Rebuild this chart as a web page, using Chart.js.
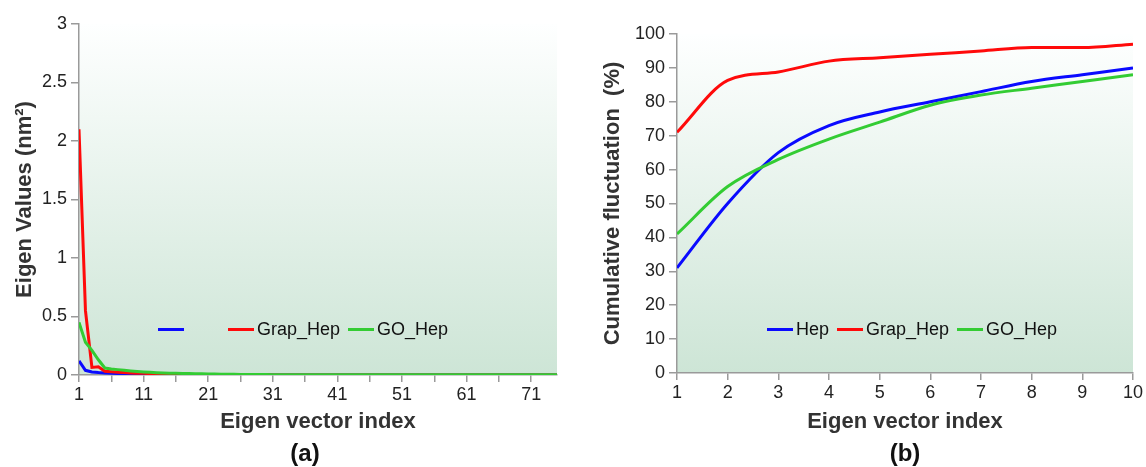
<!DOCTYPE html>
<html>
<head>
<meta charset="utf-8">
<script src="https://cdn.jsdelivr.net/npm/chart.js@4.4.0/dist/chart.umd.min.js"></script>
<style>
  body { margin: 0; background: #fff; width: 1146px; height: 467px; overflow: hidden; position: relative;
         font-family: "Liberation Sans", Arial, sans-serif; }
  .box { position: absolute; top: 0; }
  #boxA { left: 0; }
  #boxB { left: 590px; }
  .panel { position: absolute; font-weight: bold; font-size: 24px; color: #111; transform: translate(-50%, -50%); }
  .legend { position: absolute; display: flex; align-items: center; font-size: 18px; color: #111; height: 22px; }
  .legend .it { display: flex; align-items: center; margin-right: 8px; }
  .legend .ln { display: inline-block; width: 26px; height: 3px; margin-right: 3px; }
</style>
</head>
<body>
<div class="box" id="boxA"><canvas id="chartA" width="570" height="467"></canvas></div>
<div class="box" id="boxB"><canvas id="chartB" width="556" height="467"></canvas></div>
<div class="legend" id="legA" style="left:158px; top:318px;"></div>
<div class="legend" id="legB" style="left:767px; top:318px;"></div>
<div class="panel" style="left:305px; top:453px;">(a)</div>
<div class="panel" style="left:905px; top:453px;">(b)</div>
<script>
// ---- (a) eigen values ----
const indexA = [];
for (let i = 1; i <= 75; i++) indexA.push(i);
const hepA = [0.12, 0.04, 0.026, 0.021, 0.018, 0.015, 0.013, 0.012, 0.011, 0.01,
              0.009, 0.008, 0.007, 0.006, 0.005, 0.005, 0.004, 0.004, 0.003, 0.003,
              0.003, 0.003, 0.002, 0.002, 0.002, 0.002, 0.002, 0.002, 0.002, 0.002,
              0.001, 0.001, 0.001, 0.001, 0.001, 0.001, 0.001, 0.001, 0.001, 0.001,
              0.001, 0.001, 0.001, 0.001, 0.001, 0.001, 0.001, 0.001, 0.001, 0.001,
              0.001, 0.001, 0.001, 0.001, 0.001, 0.001, 0.001, 0.001, 0.001, 0.001,
              0.001, 0.001, 0.001, 0.001, 0.001, 0.001, 0.001, 0.001, 0.001, 0.001,
              0.001, 0.001, 0.001, 0.001, 0.001];
const grapA = [2.1, 0.55, 0.065, 0.07, 0.032, 0.028, 0.024, 0.021, 0.018, 0.016,
               0.014, 0.012, 0.01, 0.009, 0.008, 0.007, 0.006, 0.005, 0.005, 0.004,
               0.004, 0.003, 0.003, 0.003, 0.002, 0.002, 0.002, 0.002, 0.002, 0.002,
               0.001, 0.001, 0.001, 0.001, 0.001, 0.001, 0.001, 0.001, 0.001, 0.001,
               0.001, 0.001, 0.001, 0.001, 0.001, 0.001, 0.001, 0.001, 0.001, 0.001,
               0.001, 0.001, 0.001, 0.001, 0.001, 0.001, 0.001, 0.001, 0.001, 0.001,
               0.001, 0.001, 0.001, 0.001, 0.001, 0.001, 0.001, 0.001, 0.001, 0.001,
               0.001, 0.001, 0.001, 0.001, 0.001];
const goA = [0.45, 0.28, 0.21, 0.13, 0.06, 0.052, 0.046, 0.04, 0.035, 0.03,
             0.026, 0.023, 0.02, 0.018, 0.016, 0.014, 0.013, 0.012, 0.011, 0.01,
             0.009, 0.008, 0.007, 0.006, 0.006, 0.005, 0.005, 0.004, 0.004, 0.004,
             0.003, 0.003, 0.003, 0.003, 0.003, 0.002, 0.002, 0.002, 0.002, 0.002,
             0.002, 0.002, 0.002, 0.002, 0.002, 0.002, 0.002, 0.002, 0.002, 0.002,
             0.002, 0.002, 0.002, 0.002, 0.002, 0.002, 0.002, 0.002, 0.002, 0.002,
             0.002, 0.002, 0.002, 0.002, 0.002, 0.002, 0.002, 0.002, 0.002, 0.002,
             0.002, 0.002, 0.002, 0.002, 0.002];
const xTicksA = [1, 6, 11, 16, 21, 26, 31, 36, 41, 46, 51, 56, 61, 66, 71];
const xLabelsA = [1, 11, 21, 31, 41, 51, 61, 71];

// ---- (b) cumulative fluctuation ----
const indexB = [1, 2, 3, 4, 5, 6, 7, 8, 9, 10];
const hepB  = [31, 50, 65, 73, 77, 80, 83, 86, 88, 90];
const grapB = [71, 86.3, 88.8, 92, 93, 94, 95, 96, 96, 97];
const goB   = [41, 55, 63, 69, 74, 79, 82, 84, 86, 88];

const seriesNames = ['Hep', 'Grap_Hep', 'GO_Hep'];
const seriesColors = ['#0a0aff', '#ff0a0a', '#33cc33'];

const FONT = '"Liberation Sans", Arial, sans-serif';
const axisGrey = '#9a9a9a';

const plotBg = {
    id: 'plotBg',
    beforeDraw(chart) {
        const { ctx, chartArea: a } = chart;
        const g = ctx.createLinearGradient(0, a.top, 0, a.bottom);
        g.addColorStop(0, '#feffff');
        g.addColorStop(1, '#cde5d6');
        ctx.save();
        ctx.fillStyle = g;
        ctx.fillRect(a.left, a.top, a.right - a.left, a.bottom - a.top);
        ctx.restore();
    }
};

function toPoints(xs, ys) {
    return xs.map((x, i) => ({ x: x, y: ys[i] }));
}

function makeDatasets(xs, lists, smooth) {
    return lists.map((ys, i) => ({
        label: seriesNames[i],
        data: toPoints(xs, ys),
        borderColor: seriesColors[i],
        borderWidth: 3,
        pointRadius: 0,
        order: 3 - i,   // green on top, like the original
        tension: smooth ? 0.4 : 0,
        cubicInterpolationMode: smooth ? 'monotone' : 'default',
        fill: false
    }));
}

function makeOptions(cfg) {
    return {
        responsive: false,
        animation: false,
        layout: { padding: cfg.padding },
        plugins: { legend: { display: false }, tooltip: { enabled: false } },
        scales: {
            x: {
                type: 'linear',
                min: cfg.xMin, max: cfg.xMax,
                afterFit: s => { s.height = cfg.xHeight; },
                afterBuildTicks: cfg.xTicks ? (s => { s.ticks = cfg.xTicks.map(v => ({ value: v })); }) : undefined,
                ticks: {
                    stepSize: 1,
                    autoSkip: false,
                    maxRotation: 0,
                    padding: 2,
                    color: '#222',
                    font: { family: FONT, size: 18 },
                    callback: cfg.xLabel
                },
                grid: { drawOnChartArea: false, color: axisGrey, lineWidth: 1.5, tickLength: 7 },
                border: { color: axisGrey, width: 1.5 },
                title: {
                    display: true, text: 'Eigen vector index', color: '#333',
                    font: { family: FONT, size: 22, weight: 'bold' },
                    padding: { top: 0, bottom: 0 }
                }
            },
            y: {
                min: 0, max: cfg.yMax,
                afterFit: s => { s.width = cfg.yWidth; },
                ticks: {
                    stepSize: cfg.yStep,
                    padding: 4,
                    color: '#222',
                    font: { family: FONT, size: 18 },
                    callback: v => String(v)
                },
                grid: { drawOnChartArea: false, color: axisGrey, lineWidth: 1.5, tickLength: 8 },
                border: { color: axisGrey, width: 1.5 },
                title: {
                    display: true, text: cfg.yTitle, color: '#333',
                    font: { family: FONT, size: 22, weight: 'bold' },
                    padding: { top: cfg.yTitlePad, bottom: 0 }
                }
            }
        }
    };
}

new Chart(document.getElementById('chartA'), {
    type: 'line',
    data: { datasets: makeDatasets(indexA, [hepA, grapA, goA], false) },
    options: makeOptions({
        padding: { left: 0, right: 13, top: 24, bottom: 32 },
        xMin: 1, xMax: 75, xTicks: xTicksA, xHeight: 60,
        xLabel: v => xLabelsA.includes(v) ? String(v) : '',
        yMax: 3, yStep: 0.5, yWidth: 79, yTitlePad: 12,
        yTitle: 'Eigen Values (nm\u00b2)'
    }),
    plugins: [plotBg]
});

new Chart(document.getElementById('chartB'), {
    type: 'line',
    data: { datasets: makeDatasets(indexB, [hepB, grapB, goB], true) },
    options: makeOptions({
        padding: { left: 0, right: 13, top: 34, bottom: 32 },
        xMin: 1, xMax: 10, xTicks: null, xHeight: 62,
        xLabel: v => String(v),
        yMax: 100, yStep: 10, yWidth: 87, yTitlePad: 10,
        yTitle: 'Cumulative fluctuation  (%)'
    }),
    plugins: [plotBg]
});

// legends drawn inside the plot areas
function buildLegend(el, names) {
    names.forEach((name, i) => {
        const it = document.createElement('div');
        it.className = 'it';
        const ln = document.createElement('span');
        ln.className = 'ln';
        ln.style.background = seriesColors[i];
        const tx = document.createElement('span');
        tx.textContent = name;
        if (name === '') tx.style.width = '33px';
        it.appendChild(ln);
        it.appendChild(tx);
        el.appendChild(it);
    });
}
buildLegend(document.getElementById('legA'), ['', 'Grap_Hep', 'GO_Hep']);
buildLegend(document.getElementById('legB'), seriesNames);
</script>
</body>
</html>
